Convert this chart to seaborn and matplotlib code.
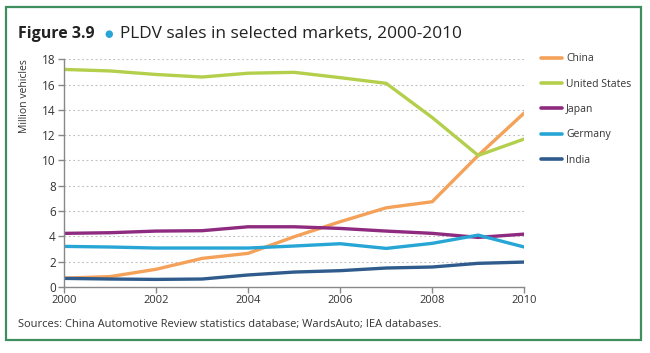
import matplotlib
matplotlib.use("Agg")
import matplotlib.pyplot as plt
import seaborn as sns
import pandas as pd
from matplotlib.patches import Rectangle

years = list(range(2000, 2011))
china = [0.70, 0.82, 1.40, 2.26, 2.66, 3.97, 5.16, 6.26, 6.74, 10.40, 13.76]
united_states = [17.20, 17.08, 16.80, 16.60, 16.90, 16.97, 16.55, 16.10, 13.40, 10.40, 11.70]
japan = [4.24, 4.29, 4.42, 4.45, 4.76, 4.76, 4.63, 4.42, 4.24, 3.92, 4.18]
germany = [3.21, 3.16, 3.08, 3.08, 3.08, 3.24, 3.42, 3.05, 3.45, 4.10, 3.16]
india = [0.68, 0.63, 0.60, 0.63, 0.95, 1.18, 1.29, 1.50, 1.58, 1.87, 1.97]
series_names = ["China", "United States", "Japan", "Germany", "India"]
colors = ["#F4A15A", "#B3CF4B", "#8E2A7F", "#27A6D6", "#2F5C8C"]
y_ticks = list(range(0, 19, 2))
x_ticks = list(range(2000, 2011, 2))

sns.set_theme(style="white")
FONT = ["Open Sans", "DejaVu Sans"]
plt.rcParams["font.family"] = FONT

df = pd.DataFrame({
    "Year": years * 5,
    "Value": china + united_states + japan + germany + india,
    "Country": sum([[n] * len(years) for n in series_names], []),
})

fig = plt.figure(figsize=(6.5, 3.53), dpi=100)
ax = fig.add_axes([0.0985, 0.187, 0.708, 0.645])

sns.lineplot(data=df, x="Year", y="Value", hue="Country", hue_order=series_names,
             palette=colors, linewidth=2.4, ax=ax, legend=True)

ax.set_xlim(2000, 2010)
ax.set_ylim(0, 18)
ax.set_xticks(x_ticks)
ax.set_yticks(y_ticks)
ax.set_xticklabels([str(x) for x in x_ticks], fontsize=8, color="#333333")
ax.set_yticklabels([str(y) for y in y_ticks], fontsize=8.5, color="#333333")
ax.set_xlabel("")
ax.set_ylabel("Million vehicles", fontsize=7.5, color="#333333")
ax.yaxis.set_label_coords(-0.075, 0.84)
for y in y_ticks[1:]:
    ax.axhline(y, color="#BBBBBB", linestyle=(0, (1.5, 2.5)), linewidth=0.8, zorder=0)
for s in ["top", "right"]:
    ax.spines[s].set_visible(False)
for s in ["left", "bottom"]:
    ax.spines[s].set_color("#888888")
    ax.spines[s].set_linewidth(1.0)
ax.tick_params(axis="both", which="major", direction="out", length=4, width=1,
               color="#888888", pad=2, left=True, bottom=True)

leg = ax.legend(loc="upper left", bbox_to_anchor=(1.015, 1.068), frameon=False,
                fontsize=7.5, handlelength=2.1, handletextpad=0.35, labelspacing=1.38)
for line in leg.get_lines():
    line.set_linewidth(2.6)
for t in leg.get_texts():
    t.set_color("#333333")

fig.text(0.028, 0.905, "Figure 3.9", fontsize=11.5, fontweight="bold", color="#222222",
         va="center")
fig.text(0.160, 0.905, "\u25CF", fontsize=7, color="#27A6D6", va="center",
         family=["DejaVu Sans"])
fig.text(0.184, 0.905, "PLDV sales in selected markets, 2000-2010", fontsize=12.4,
         color="#222222", va="center")
fig.text(0.028, 0.08, "Sources: China Automotive Review statistics database; WardsAuto; IEA databases.",
         fontsize=8, color="#333333", va="center")

fig.patches.append(Rectangle((0.009, 0.037), 0.977, 0.943, transform=fig.transFigure,
                             fill=False, edgecolor="#3E8E5E", linewidth=1.6))

fig.savefig("out.png", dpi=100)
